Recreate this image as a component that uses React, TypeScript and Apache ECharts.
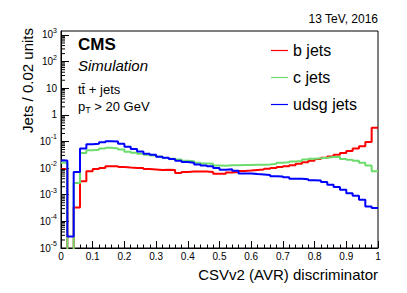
import React, { useEffect, useRef } from 'react';
import * as echarts from 'echarts';

const FONT = 'Liberation Sans';

// bin low edges: 50 bins of width 0.02 on [0, 1]
const binWidth = 0.02;

// Jets per 0.02 units (normalised)
const bJets = [
  9.3e-3, 0, 3.3e-4, 3.2e-3, 7.6e-3, 9.3e-3, 1.0e-2, 1.17e-2, 1.17e-2, 1.1e-2,
  1.05e-2, 1.02e-2, 1.0e-2, 9.3e-3, 8.9e-3, 8.5e-3, 8.7e-3, 8.5e-3, 6.6e-3, 7.2e-3,
  7.4e-3, 7.4e-3, 7.4e-3, 7.2e-3, 6.2e-3, 6.2e-3, 6.8e-3, 7.1e-3, 7.8e-3, 8.1e-3,
  8.5e-3, 8.9e-3, 9.5e-3, 1.02e-2, 1.1e-2, 1.17e-2, 1.29e-2, 1.45e-2, 1.66e-2, 1.9e-2,
  2.2e-2, 2.45e-2, 2.75e-2, 3.2e-2, 3.7e-2, 4.4e-2, 5.4e-2, 6.6e-2, 9.5e-2, 0.33,
];

const cJets = [
  1.6e-2, 0, 2.75e-3, 3.7e-2, 4.7e-2, 4.9e-2, 5.4e-2, 5.8e-2, 5.5e-2, 5.0e-2,
  4.1e-2, 3.8e-2, 3.5e-2, 3.2e-2, 2.95e-2, 2.75e-2, 2.4e-2, 2.25e-2, 2.1e-2, 1.9e-2,
  1.8e-2, 1.6e-2, 1.5e-2, 1.45e-2, 1.26e-2, 1.23e-2, 1.29e-2, 1.29e-2, 1.32e-2, 1.32e-2,
  1.35e-2, 1.35e-2, 1.38e-2, 1.45e-2, 1.6e-2, 1.66e-2, 1.78e-2, 1.86e-2, 2.1e-2, 2.25e-2,
  2.35e-2, 2.45e-2, 2.6e-2, 2.7e-2, 2.2e-2, 2.05e-2, 1.9e-2, 1.6e-2, 1.26e-2, 7.6e-3,
];

const udsgJets = [
  1.95e-2, 2.7e-5, 7.2e-3, 5.5e-2, 7.9e-2, 8.3e-2, 9.3e-2, 0.102, 0.1, 8.3e-2,
  6.3e-2, 5.2e-2, 4.2e-2, 3.5e-2, 3.2e-2, 2.7e-2, 2.45e-2, 2.2e-2, 1.9e-2, 1.7e-2,
  1.6e-2, 1.38e-2, 1.26e-2, 1.17e-2, 1.0e-2, 8.7e-3, 9.1e-3, 7.9e-3, 6.3e-3, 6.3e-3,
  6.0e-3, 5.8e-3, 5.5e-3, 5.0e-3, 4.8e-3, 4.5e-3, 4.0e-3, 4.0e-3, 3.8e-3, 3.5e-3,
  3.4e-3, 3.0e-3, 2.4e-3, 1.95e-3, 1.55e-3, 1.15e-3, 9.1e-4, 6.5e-4, 3.6e-4, 3.2e-4,
];

const seriesNames = ['b jets', 'c jets', 'udsg jets'];
const seriesColors = ['#ff0000', '#6cdc6c', '#0000ff'];

// log10 axis range (decades)
const yLogMin = -5;
const yLogMax = 3.15;

const xTitle = 'CSVv2 (AVR) discriminator';
const yTitle = 'Jets / 0.02 units';

function toSteps(vals: number[]) {
  const pts: number[][] = vals.map((v, i) => [i * binWidth, v > 0 ? Math.log10(v) : yLogMin - 1]);
  pts.push([vals.length * binWidth, pts[pts.length - 1][1]]);
  return pts;
}

function yMinorTicks() {
  const out: number[][] = [];
  for (let n = Math.floor(yLogMin); n < Math.ceil(yLogMax); n++) {
    for (let k = 2; k <= 9; k++) {
      const v = n + Math.log10(k);
      if (v > yLogMin && v < yLogMax) out.push([0, v]);
    }
  }
  return out;
}

export default function App() {
  const ref = useRef<HTMLDivElement>(null);
  useEffect(() => {
    const chart = echarts.init(ref.current!, null, { renderer: 'svg' });
    const datasets = [bJets, cJets, udsgJets];
    const option: any = {
      animation: false,
      backgroundColor: '#fff',
      textStyle: { fontFamily: FONT },
      grid: {
        left: 61, right: 29, top: 31, bottom: 45,
        show: true, borderColor: '#000', borderWidth: 1, backgroundColor: 'transparent',
      },
      xAxis: {
        type: 'value', min: 0, max: 1, interval: 0.1,
        axisLine: { onZero: false, lineStyle: { color: '#000', width: 1 } },
        axisTick: { inside: true, length: 7, lineStyle: { color: '#000' } },
        minorTick: { show: true, splitNumber: 5, length: 3.5, lineStyle: { color: '#000' } },
        axisLabel: {
          color: '#000', fontSize: 10, margin: 3, fontFamily: FONT,
          formatter: (v: number) => (Math.abs(v) < 1e-9 ? '0' : Math.abs(v - 1) < 1e-9 ? '1' : v.toFixed(1)),
        },
        splitLine: { show: false },
      },
      yAxis: {
        type: 'value', min: yLogMin, max: yLogMax, interval: 1,
        axisLine: { onZero: false, lineStyle: { color: '#000', width: 1 } },
        axisTick: { inside: true, length: 8, lineStyle: { color: '#000' } },
        axisLabel: {
          color: '#000', fontSize: 10, margin: 4, fontFamily: FONT, showMaxLabel: false,
          formatter: (v: number) => {
            const n = Math.round(v);
            if (Math.abs(v - n) > 1e-6) return '';
            if (n === 0) return '1';
            if (n === 1) return '10';
            return '{b|10}{s|' + n + '}';
          },
          rich: {
            b: { fontSize: 10, lineHeight: 16, color: '#000', fontFamily: FONT },
            s: { fontSize: 7, lineHeight: 8, verticalAlign: 'top', color: '#000', fontFamily: FONT },
          },
        },
        splitLine: { show: false },
      },
      legend: {
        data: seriesNames,
        orient: 'vertical',
        left: 271, top: 42, padding: 0,
        icon: 'rect', itemWidth: 17, itemHeight: 1.2, itemGap: 10,
        selectedMode: false,
        textStyle: { fontSize: 16, color: '#000', lineHeight: 17, fontFamily: FONT },
      },
      series: [
        {
          type: 'custom', name: 'yminor', silent: true, z: 3,
          data: yMinorTicks(),
          renderItem: (params: any, api: any) => {
            const p = api.coord([0, api.value(1)]);
            return {
              type: 'line',
              shape: { x1: p[0], y1: p[1], x2: p[0] + 4, y2: p[1] },
              style: { stroke: '#000', lineWidth: 1 },
            };
          },
        },
        ...datasets.map((d, i) => ({
          type: 'line', name: seriesNames[i], step: 'end', data: toSteps(d),
          symbol: 'none', clip: true, z: 2 + i,
          lineStyle: { color: seriesColors[i], width: 2 },
          itemStyle: { color: seriesColors[i] },
        })),
      ],
      graphic: [
        { type: 'text', x: 378, y: 19, style: { text: '13 TeV, 2016', fontSize: 12, fontFamily: FONT, fill: '#000', textAlign: 'right', align: 'right', textVerticalAlign: 'middle', verticalAlign: 'middle' } },
        { type: 'text', x: 78, y: 44, style: { text: 'CMS', fontSize: 17, fontWeight: 'bold', fontFamily: FONT, fill: '#000', textAlign: 'left', align: 'left', textVerticalAlign: 'middle', verticalAlign: 'middle' } },
        { type: 'text', x: 78, y: 65, style: { text: 'Simulation', fontSize: 15, fontStyle: 'italic', fontFamily: FONT, fill: '#000', textAlign: 'left', align: 'left', textVerticalAlign: 'middle', verticalAlign: 'middle' } },
        { type: 'text', x: 78, y: 89, style: { text: 'tt\u0304 + jets', fontSize: 13, fontFamily: FONT, fill: '#000', textAlign: 'left', align: 'left', textVerticalAlign: 'middle', verticalAlign: 'middle' } },
        {
          type: 'text', x: 78, y: 106,
          style: {
            text: '{a|p}{b|T}{a| > 20 GeV}', fill: '#000', fontFamily: FONT, fontSize: 13,
            textAlign: 'left', align: 'left', textVerticalAlign: 'middle', verticalAlign: 'middle',
            rich: {
              a: { fontSize: 13, lineHeight: 17, fill: '#000', color: '#000', fontFamily: FONT },
              b: { fontSize: 9, lineHeight: 9, verticalAlign: 'bottom', fill: '#000', color: '#000', fontFamily: FONT },
            },
          },
        },
        { type: 'text', x: 27, y: 28, rotation: Math.PI / 2, style: { text: yTitle, fontSize: 15, fontFamily: FONT, fill: '#000', textAlign: 'right', align: 'right', textVerticalAlign: 'middle', verticalAlign: 'middle' } },
        { type: 'text', x: 378, y: 274, style: { text: xTitle, fontSize: 15, fontFamily: FONT, fill: '#000', textAlign: 'right', align: 'right', textVerticalAlign: 'middle', verticalAlign: 'middle' } },
      ],
    };
    chart.setOption(option);
    return () => chart.dispose();
  }, []);
  return <div ref={ref} style={{ position: 'absolute', left: 0, top: 0, width: 407, height: 293, background: '#fff' }} />;
}
